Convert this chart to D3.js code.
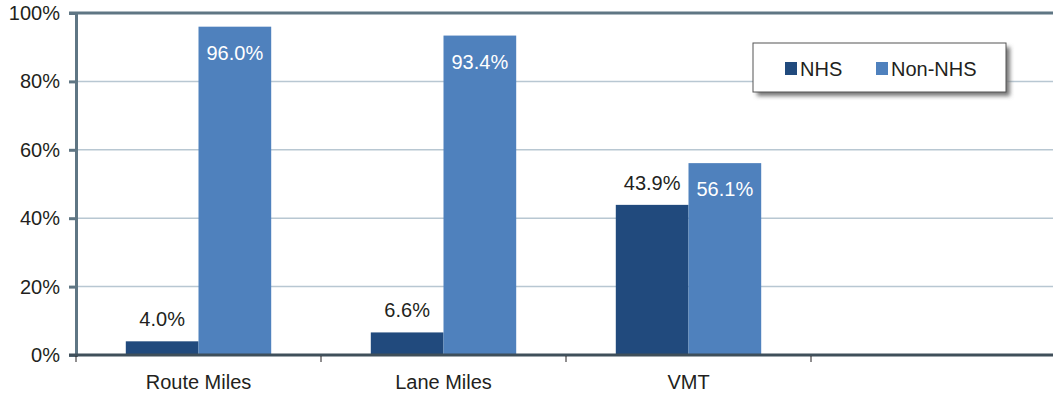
<!DOCTYPE html>
<html>
<head>
<meta charset="utf-8">
<script src="https://cdn.jsdelivr.net/npm/d3@7"></script>
<style>
  body { margin: 0; background: #fff; }
  text { font-family: "Liberation Sans", Arial, sans-serif; fill: #231f20; }
</style>
</head>
<body>
<div id="chart"></div>
<script>
var categories = ['Route Miles', 'Lane Miles', 'VMT', ''];
var seriesNames = ['NHS', 'Non-NHS'];
var nhsValues = [4.0, 6.6, 43.9, null];
var nonNhsValues = [96.0, 93.4, 56.1, null];
var yTicks = [0, 20, 40, 60, 80, 100];

var colors = { 'NHS': '#214a7d', 'Non-NHS': '#4f81bd' };
var W = 1053, H = 395;
var plotL = 76, plotT = 13, plotB = 355;
var fs = '20px';

var svg = d3.select('#chart').append('svg')
    .attr('width', W).attr('height', H);

var x = d3.scaleBand().domain(categories).range([plotL, plotL + 245 * 4])
    .paddingInner(0).paddingOuter(0);
var xs = d3.scaleBand().domain(seriesNames).range([0, x.bandwidth()])
    .paddingInner(0).paddingOuter(50 / 73);
var y = d3.scaleLinear().domain([0, 100]).range([plotB, plotT]);

// gridlines
svg.append('g').selectAll('line').data(yTicks.filter(function(d) { return d > 0 && d < 100; }))
  .enter().append('line')
    .attr('x1', plotL).attr('x2', W)
    .attr('y1', function(d) { return y(d); }).attr('y2', function(d) { return y(d); })
    .attr('stroke', '#b8c7d2').attr('stroke-width', 1.5);

// bars
var rows = categories.map(function(c, i) {
  return [{ cat: c, s: 'NHS', v: nhsValues[i] }, { cat: c, s: 'Non-NHS', v: nonNhsValues[i] }];
});
var g = svg.append('g').selectAll('g').data(rows).enter().append('g')
    .attr('transform', function(d, i) { return 'translate(' + x(categories[i]) + ',0)'; });
g.selectAll('rect').data(function(d) { return d.filter(function(e) { return e.v != null; }); })
  .enter().append('rect')
    .attr('x', function(d) { return xs(d.s); })
    .attr('width', xs.bandwidth())
    .attr('y', function(d) { return y(d.v); })
    .attr('height', function(d) { return y(0) - y(d.v); })
    .attr('fill', function(d) { return colors[d.s]; });

// value labels
g.selectAll('text.val').data(function(d) { return d.filter(function(e) { return e.v != null; }); })
  .enter().append('text').attr('class', 'val')
    .attr('x', function(d) { return xs(d.s) + xs.bandwidth() / 2; })
    .attr('y', function(d) { return d.s === 'NHS' ? y(d.v) - 15 : y(d.v) + 33; })
    .attr('text-anchor', 'middle')
    .style('font-size', fs)
    .style('fill', function(d) { return d.s === 'NHS' ? '#231f20' : '#ffffff'; })
    .text(function(d) { return d.v.toFixed(1) + '%'; });

// top border
svg.append('line').attr('x1', plotL - 7).attr('x2', W)
    .attr('y1', y(100)).attr('y2', y(100))
    .attr('stroke', '#5f7684').attr('stroke-width', 3);

// y axis
var yAxis = svg.append('g').attr('transform', 'translate(' + plotL + ',0)')
    .call(d3.axisLeft(y).tickValues(yTicks).tickSize(7).tickPadding(9)
      .tickFormat(function(d) { return d + '%'; }));
yAxis.attr('font-family', null).attr('font-size', null);
yAxis.select('.domain').attr('stroke', '#5f7684').attr('stroke-width', 3);
yAxis.selectAll('.tick line').attr('stroke', '#5f7684').attr('stroke-width', 3);
yAxis.selectAll('.tick text').style('font-size', fs).style('fill', '#231f20');

// baseline
svg.append('line').attr('x1', plotL - 7).attr('x2', W)
    .attr('y1', y(0)).attr('y2', y(0))
    .attr('stroke', '#3f4f5a').attr('stroke-width', 3);

// x category ticks
var xTickPos = categories.map(function(c) { return x(c); });
svg.append('g').selectAll('line').data(xTickPos).enter().append('line')
    .attr('x1', function(d) { return d; }).attr('x2', function(d) { return d; })
    .attr('y1', y(0) + 1).attr('y2', y(0) + 7)
    .attr('stroke', '#231f20').attr('stroke-width', 1);

svg.append('g').selectAll('text').data(categories).enter().append('text')
    .attr('x', function(d) { return x(d) + x.bandwidth() / 2; })
    .attr('y', 389)
    .attr('text-anchor', 'middle')
    .style('font-size', fs)
    .text(function(d) { return d; });

// legend
var lg = svg.append('g').attr('transform', 'translate(753,43)');
var defs = svg.append('defs');
var f = defs.append('filter').attr('id', 'sh').attr('x', '-10%').attr('y', '-10%')
    .attr('width', '130%').attr('height', '150%');
f.append('feGaussianBlur').attr('stdDeviation', 2);
lg.append('rect').attr('x', 4).attr('y', 4).attr('width', 253).attr('height', 49)
    .attr('fill', '#777').attr('filter', 'url(#sh)');
lg.append('rect').attr('width', 253).attr('height', 49)
    .attr('fill', '#fff').attr('stroke', '#555').attr('stroke-width', 1);
var li = lg.selectAll('g.item').data(seriesNames).enter().append('g')
    .attr('transform', function(d, i) { return 'translate(' + (i === 0 ? 32 : 123) + ',0)'; });
li.append('rect').attr('x', 0).attr('y', 19).attr('width', 12).attr('height', 13)
    .attr('fill', function(d) { return colors[d]; });
li.append('text').attr('x', 15).attr('y', 33).style('font-size', fs)
    .text(function(d) { return d; });
</script>
</body>
</html>
